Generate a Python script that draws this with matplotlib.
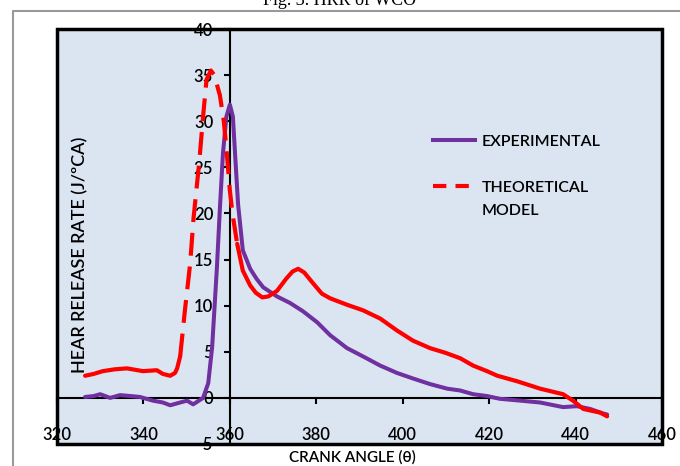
import matplotlib.pyplot as plt
from matplotlib.patches import Rectangle
from matplotlib.lines import Line2D

# experimental HRR (purple)
exp_angle = [326.5, 328.5, 330.0, 332.3, 334.6, 337.0, 339.2, 342.2, 344.5, 346.2,
             348.5, 350.1, 351.5, 352.5, 353.8, 355.0, 355.9, 357.0, 357.7, 358.4,
             359.2, 360.0, 360.7, 361.2, 361.9, 363.0, 364.7, 366.2, 367.7, 370.9,
             373.9, 376.9, 380.2, 383.2, 387.1, 390.8, 394.8, 398.7, 402.4, 406.3,
             410.3, 413.3, 416.3, 419.5, 422.5, 427.2, 431.8, 437.1, 440.3, 443.4,
             446.4, 447.3]
exp_hrr = [0.1, 0.2, 0.4, 0.0, 0.3, 0.2, 0.1, -0.3, -0.5, -0.8,
           -0.5, -0.3, -0.7, -0.4, 0.0, 1.6, 5.5, 14.1, 20.6, 26.5,
           30.5, 31.8, 30.5, 26.5, 21.0, 16.0, 14.0, 12.9, 12.0, 11.0,
           10.3, 9.4, 8.2, 6.8, 5.4, 4.5, 3.5, 2.7, 2.1, 1.5,
           1.0, 0.8, 0.4, 0.2, -0.1, -0.3, -0.5, -1.0, -0.9, -1.2,
           -1.7, -1.8]

# theoretical model HRR (red)
th_angle = [326.5, 328.5, 330.6, 333.4, 336.2, 339.9, 343.1, 344.5, 346.2, 347.3,
            347.8, 348.5, 349.6, 350.8, 351.6, 352.9, 353.9, 354.6, 355.6, 356.4,
            357.7, 358.6, 359.3, 360.0, 360.6, 361.2, 361.7, 363.0, 364.7, 366.0,
            367.5, 368.9, 370.9, 373.0, 374.5, 375.8, 377.2, 379.3, 381.3, 383.2,
            387.1, 390.8, 394.8, 398.7, 402.4, 406.3, 409.8, 413.3, 416.3, 419.5,
            421.9, 426.5, 431.8, 437.1, 439.4, 441.8, 445.7, 447.3]
th_hrr = [2.4, 2.6, 2.9, 3.1, 3.2, 2.9, 3.0, 2.6, 2.4, 2.7,
          3.2, 4.5, 9.5, 14.5, 19.5, 25.5, 31.0, 34.5, 35.5, 35.0,
          32.8, 30.0, 26.5, 22.5, 20.0, 18.2, 16.7, 13.8, 12.2, 11.4,
          10.9, 11.0, 11.6, 12.9, 13.7, 14.0, 13.6, 12.4, 11.3, 10.8,
          10.1, 9.5, 8.6, 7.3, 6.2, 5.4, 4.9, 4.3, 3.5, 2.9,
          2.4, 1.8, 1.0, 0.4, -0.3, -1.2, -1.6, -2.0]

x_ticks = [320, 340, 360, 380, 400, 420, 440, 460]
y_ticks = [-5, 0, 5, 10, 15, 20, 25, 30, 35, 40]

purple = '#7030a0'
red = '#ff0000'
plt.rcParams['font.family'] = ['Lato', 'DejaVu Sans']
plt.rcParams['font.weight'] = 'semibold'

fig = plt.figure(figsize=(6.8, 4.66), dpi=100)
ax = fig.add_axes([57 / 680, 22 / 466, 605 / 680, 415 / 466])
ax.set_facecolor('#dbe5f1')

ax.plot(exp_angle, exp_hrr, color=purple, lw=2.9, solid_capstyle='round',
        solid_joinstyle='round', zorder=3)

# red curve: solid on the flat parts, dashed on the steep part
i0, i1 = 11, 26
ax.plot(th_angle[:i0 + 1], th_hrr[:i0 + 1], color=red, lw=3, solid_capstyle='round',
        solid_joinstyle='round', zorder=3)
ax.plot(th_angle[i0:i1 + 1], th_hrr[i0:i1 + 1], color=red, lw=3, dashes=(5.5, 2.6), zorder=3)
ax.plot(th_angle[i1:], th_hrr[i1:], color=red, lw=3, solid_capstyle='round',
        solid_joinstyle='round', zorder=3)

ax.set_xlim(320, 460)
ax.set_ylim(-5, 40)
ax.set_xticks(x_ticks)
ax.set_yticks(y_ticks)

ax.spines['left'].set_position(('data', 360))
ax.spines['bottom'].set_position(('data', 0))
for s in ['left', 'bottom']:
    ax.spines[s].set_linewidth(1.5)
    ax.spines[s].set_zorder(2)
ax.spines['top'].set_visible(False)
ax.spines['right'].set_visible(False)

ax.tick_params(axis='x', direction='out', length=4, width=1.5, pad=17, labelsize=12)
ax.tick_params(axis='y', direction='out', length=4, width=1.5, pad=8, labelsize=12)

# outer frame of the plot area
ax.add_patch(Rectangle((0, 0), 1, 1, transform=ax.transAxes, fill=False,
                       edgecolor='black', lw=2.5, clip_on=False, zorder=4))

# legend
handles = [Line2D([], [], color=purple, lw=2.9),
           Line2D([], [], color=red, lw=3, dashes=(3.2, 2.2))]
ax.legend(handles, ['EXPERIMENTAL', 'THEORETICAL'], loc='upper left',
          bbox_to_anchor=(419 / 680, 1 - 120 / 466), bbox_transform=fig.transFigure,
          frameon=False, fontsize=11.5, handlelength=2.6, labelspacing=2.0,
          handletextpad=0.4)
fig.text(482 / 680, 1 - 211 / 466, 'MODEL', ha='left', va='center', fontsize=11.5)

ax.text(0.038, 0.455, 'HEAR RELEASE RATE (J/ºCA)', transform=ax.transAxes,
        rotation=90, ha='center', va='center', fontsize=13)
fig.text(352 / 680, 9 / 466, 'CRANK ANGLE (θ)', ha='center', va='center', fontsize=11)
fig.text(340 / 680, 1 - 5 / 466, 'Fig. 3. HRR of WCO', ha='center', va='baseline',
         fontsize=13, family='Liberation Serif', fontweight='normal')

# grey outline of the figure box
fig.add_artist(Line2D([13 / 680, 13 / 680, 1], [0, 1 - 11 / 466, 1 - 11 / 466],
                      transform=fig.transFigure, color='#999999', lw=1.5))

fig.savefig('out.png', dpi=100)
